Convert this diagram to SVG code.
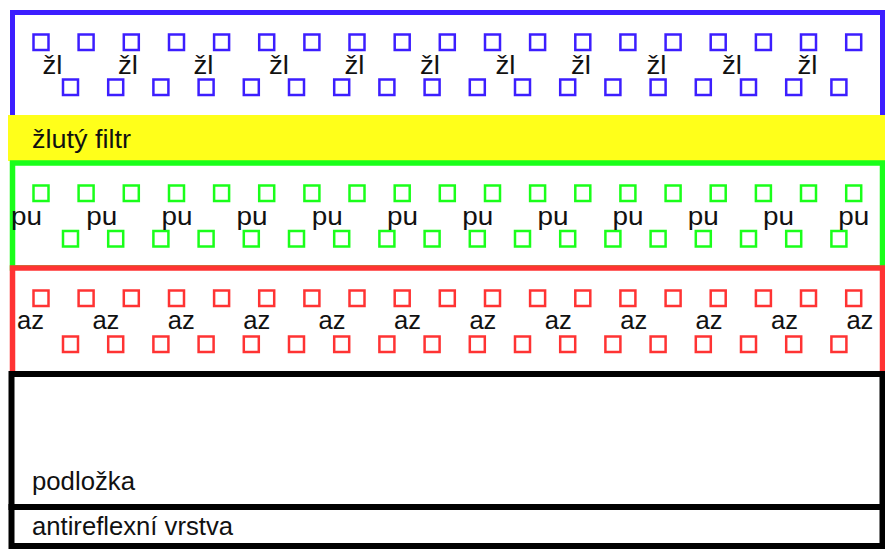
<svg xmlns="http://www.w3.org/2000/svg" xmlns:xlink="http://www.w3.org/1999/xlink" width="885" height="549" viewBox="0 0 885 549">
<style>
.t{font-family:"Liberation Sans",Arial,sans-serif;font-size:25px;fill:#111}
.lab{font-family:"Liberation Sans",Arial,sans-serif;font-size:25px;fill:#111}
.b{fill:none;stroke:#3c1eff}
.g{fill:none;stroke:#1aff1a}
.r{fill:none;stroke:#ff3333}
.sq{stroke-width:2.5}
</style>
<defs>
<rect id="s" width="15" height="15.5"/>
<g id="top">
<use xlink:href="#s" x="33.5"/><use xlink:href="#s" x="78.6"/><use xlink:href="#s" x="123.8"/><use xlink:href="#s" x="169"/><use xlink:href="#s" x="214.1"/><use xlink:href="#s" x="259.2"/><use xlink:href="#s" x="304.4"/><use xlink:href="#s" x="349.5"/><use xlink:href="#s" x="394.7"/><use xlink:href="#s" x="439.8"/><use xlink:href="#s" x="485"/><use xlink:href="#s" x="530.1"/><use xlink:href="#s" x="575.3"/><use xlink:href="#s" x="620.4"/><use xlink:href="#s" x="665.6"/><use xlink:href="#s" x="710.7"/><use xlink:href="#s" x="755.9"/><use xlink:href="#s" x="801"/><use xlink:href="#s" x="846.2"/>
</g>
<g id="bot">
<use xlink:href="#s" x="63"/><use xlink:href="#s" x="108.2"/><use xlink:href="#s" x="153.4"/><use xlink:href="#s" x="198.6"/><use xlink:href="#s" x="243.8"/><use xlink:href="#s" x="289"/><use xlink:href="#s" x="334.2"/><use xlink:href="#s" x="379.4"/><use xlink:href="#s" x="424.6"/><use xlink:href="#s" x="469.8"/><use xlink:href="#s" x="515"/><use xlink:href="#s" x="560.2"/><use xlink:href="#s" x="605.4"/><use xlink:href="#s" x="650.6"/><use xlink:href="#s" x="695.8"/><use xlink:href="#s" x="741"/><use xlink:href="#s" x="786.2"/><use xlink:href="#s" x="831.4"/>
</g>
</defs>
<rect width="885" height="549" fill="#fff"/>

<g id="layer-blue">
<rect x="12.5" y="12.5" width="870" height="106" fill="#fff" stroke="#3c1eff" stroke-width="5"/>
<g class="b sq"><use xlink:href="#top" y="34.5"/><use xlink:href="#bot" y="79.5"/></g>
<g class="lab">
<text x="42.5" y="74" textLength="20" lengthAdjust="spacingAndGlyphs">žl</text>
<text x="118" y="74" textLength="20" lengthAdjust="spacingAndGlyphs">žl</text>
<text x="193.5" y="74" textLength="20" lengthAdjust="spacingAndGlyphs">žl</text>
<text x="269" y="74" textLength="20" lengthAdjust="spacingAndGlyphs">žl</text>
<text x="344.5" y="74" textLength="20" lengthAdjust="spacingAndGlyphs">žl</text>
<text x="420" y="74" textLength="20" lengthAdjust="spacingAndGlyphs">žl</text>
<text x="495.5" y="74" textLength="20" lengthAdjust="spacingAndGlyphs">žl</text>
<text x="571" y="74" textLength="20" lengthAdjust="spacingAndGlyphs">žl</text>
<text x="646.5" y="74" textLength="20" lengthAdjust="spacingAndGlyphs">žl</text>
<text x="722" y="74" textLength="20" lengthAdjust="spacingAndGlyphs">žl</text>
<text x="797.5" y="74" textLength="20" lengthAdjust="spacingAndGlyphs">žl</text>
</g>
</g>

<g id="layer-yellow">
<rect x="8" y="115" width="877" height="46" fill="#ffff1a"/>
<text class="t" x="32" y="148" textLength="99" lengthAdjust="spacingAndGlyphs">žlutý filtr</text>
</g>

<g id="layer-green">
<rect x="12.5" y="163" width="870" height="105" fill="#fff" stroke="#1aff1a" stroke-width="5.5"/>
<g class="g sq"><use xlink:href="#top" y="185.5"/><use xlink:href="#bot" y="231"/></g>
<g class="lab">
<text x="11" y="225" textLength="31" lengthAdjust="spacingAndGlyphs">pu</text>
<text x="86.2" y="225" textLength="31" lengthAdjust="spacingAndGlyphs">pu</text>
<text x="161.4" y="225" textLength="31" lengthAdjust="spacingAndGlyphs">pu</text>
<text x="236.6" y="225" textLength="31" lengthAdjust="spacingAndGlyphs">pu</text>
<text x="311.8" y="225" textLength="31" lengthAdjust="spacingAndGlyphs">pu</text>
<text x="387" y="225" textLength="31" lengthAdjust="spacingAndGlyphs">pu</text>
<text x="462.2" y="225" textLength="31" lengthAdjust="spacingAndGlyphs">pu</text>
<text x="537.4" y="225" textLength="31" lengthAdjust="spacingAndGlyphs">pu</text>
<text x="612.6" y="225" textLength="31" lengthAdjust="spacingAndGlyphs">pu</text>
<text x="687.8" y="225" textLength="31" lengthAdjust="spacingAndGlyphs">pu</text>
<text x="763" y="225" textLength="31" lengthAdjust="spacingAndGlyphs">pu</text>
<text x="838.2" y="225" textLength="31" lengthAdjust="spacingAndGlyphs">pu</text>
</g>
</g>

<g id="layer-red">
<rect x="12.5" y="268" width="870" height="106" fill="#fff" stroke="#ff3333" stroke-width="5.5"/>
<g class="r sq"><use xlink:href="#top" y="290.5"/><use xlink:href="#bot" y="336.5"/></g>
<g class="lab">
<text x="17" y="329" textLength="27" lengthAdjust="spacingAndGlyphs">az</text>
<text x="92.4" y="329" textLength="27" lengthAdjust="spacingAndGlyphs">az</text>
<text x="167.8" y="329" textLength="27" lengthAdjust="spacingAndGlyphs">az</text>
<text x="243.2" y="329" textLength="27" lengthAdjust="spacingAndGlyphs">az</text>
<text x="318.6" y="329" textLength="27" lengthAdjust="spacingAndGlyphs">az</text>
<text x="394" y="329" textLength="27" lengthAdjust="spacingAndGlyphs">az</text>
<text x="469.4" y="329" textLength="27" lengthAdjust="spacingAndGlyphs">az</text>
<text x="544.8" y="329" textLength="27" lengthAdjust="spacingAndGlyphs">az</text>
<text x="620.2" y="329" textLength="27" lengthAdjust="spacingAndGlyphs">az</text>
<text x="695.6" y="329" textLength="27" lengthAdjust="spacingAndGlyphs">az</text>
<text x="771" y="329" textLength="27" lengthAdjust="spacingAndGlyphs">az</text>
<text x="846.4" y="329" textLength="27" lengthAdjust="spacingAndGlyphs">az</text>
</g>
</g>

<g id="layer-substrate">
<rect x="11.5" y="374" width="871" height="133" fill="#fff" stroke="#000" stroke-width="6"/>
<text class="t" x="32" y="490" textLength="103" lengthAdjust="spacingAndGlyphs">podložka</text>
</g>

<g id="layer-antireflex">
<rect x="11.5" y="507" width="871" height="39" fill="#fff" stroke="#000" stroke-width="6"/>
<text class="t" x="32" y="535" textLength="201" lengthAdjust="spacingAndGlyphs">antireflexní vrstva</text>
</g>
</svg>
